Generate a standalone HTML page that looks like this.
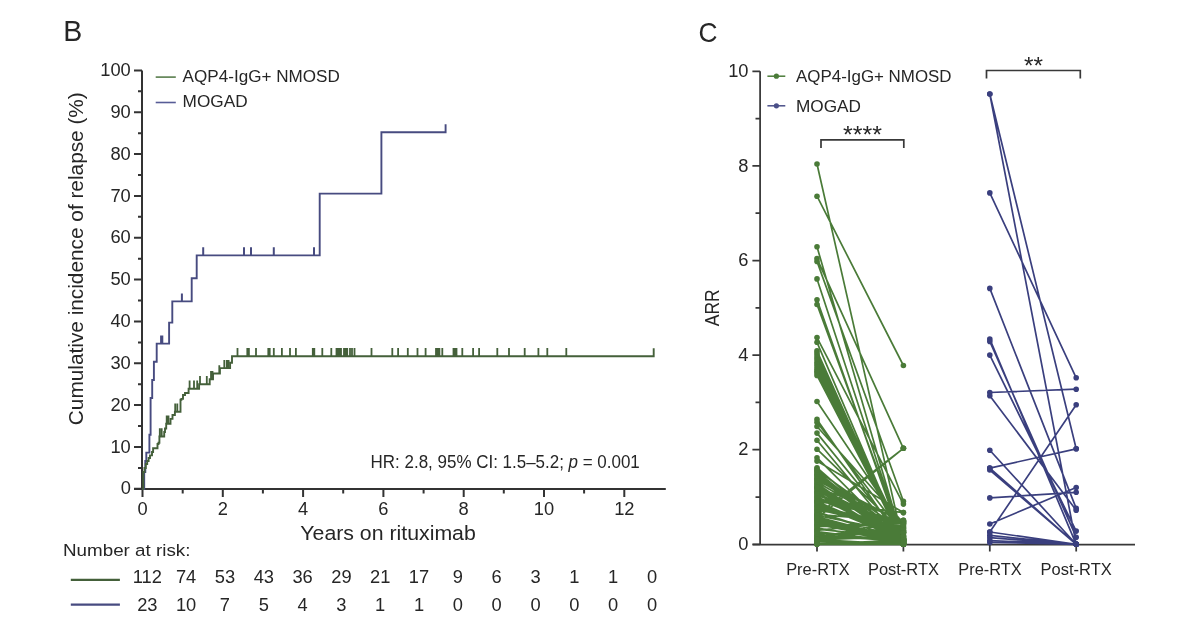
<!DOCTYPE html>
<html><head><meta charset="utf-8"><title>Figure</title>
<style>html,body{margin:0;padding:0;background:#fff;width:1200px;height:627px;overflow:hidden}
svg{display:block;font-family:"Liberation Sans", sans-serif;will-change:transform;filter:blur(0.35px)}</style></head>
<body><svg width="1200" height="627" viewBox="0 0 1200 627">
<rect width="1200" height="627" fill="#fff"/>
<text x="63.2" y="40.7" font-size="29" text-anchor="start" fill="#262626" textLength="19" lengthAdjust="spacingAndGlyphs" >B</text>
<text x="698.5" y="41.6" font-size="27.5" text-anchor="start" fill="#262626" textLength="19" lengthAdjust="spacingAndGlyphs" >C</text>
<path d="M142,70.4 V489 M134,489 H665.8" stroke="#333333" stroke-width="2" fill="none"/>
<path d="M134,488.8H142 M134,447.0H142 M134,405.1H142 M134,363.3H142 M134,321.4H142 M134,279.6H142 M134,237.8H142 M134,195.9H142 M134,154.1H142 M134,112.2H142 M134,70.4H142 M138,467.9H142 M138,426.0H142 M138,384.2H142 M138,342.4H142 M138,300.5H142 M138,258.7H142 M138,216.8H142 M138,175.0H142 M138,133.2H142 M138,91.3H142 M142.5,489V497 M222.8,489V497 M303.1,489V497 M383.4,489V497 M463.7,489V497 M544.0,489V497 M624.3,489V497 M182.7,489V493.5 M262.9,489V493.5 M343.2,489V493.5 M423.6,489V493.5 M503.8,489V493.5 M584.1,489V493.5" stroke="#333333" stroke-width="2" fill="none"/>
<text x="130.8" y="494.4" font-size="18.3" text-anchor="end" fill="#262626" >0</text>
<text x="130.8" y="452.6" font-size="18.3" text-anchor="end" fill="#262626" >10</text>
<text x="130.8" y="410.7" font-size="18.3" text-anchor="end" fill="#262626" >20</text>
<text x="130.8" y="368.9" font-size="18.3" text-anchor="end" fill="#262626" >30</text>
<text x="130.8" y="327.0" font-size="18.3" text-anchor="end" fill="#262626" >40</text>
<text x="130.8" y="285.2" font-size="18.3" text-anchor="end" fill="#262626" >50</text>
<text x="130.8" y="243.4" font-size="18.3" text-anchor="end" fill="#262626" >60</text>
<text x="130.8" y="201.5" font-size="18.3" text-anchor="end" fill="#262626" >70</text>
<text x="130.8" y="159.7" font-size="18.3" text-anchor="end" fill="#262626" >80</text>
<text x="130.8" y="117.8" font-size="18.3" text-anchor="end" fill="#262626" >90</text>
<text x="130.8" y="76.0" font-size="18.3" text-anchor="end" fill="#262626" >100</text>
<text x="142.5" y="515.4" font-size="18.3" text-anchor="middle" fill="#262626" >0</text>
<text x="222.8" y="515.4" font-size="18.3" text-anchor="middle" fill="#262626" >2</text>
<text x="303.1" y="515.4" font-size="18.3" text-anchor="middle" fill="#262626" >4</text>
<text x="383.4" y="515.4" font-size="18.3" text-anchor="middle" fill="#262626" >6</text>
<text x="463.7" y="515.4" font-size="18.3" text-anchor="middle" fill="#262626" >8</text>
<text x="544.0" y="515.4" font-size="18.3" text-anchor="middle" fill="#262626" >10</text>
<text x="624.3" y="515.4" font-size="18.3" text-anchor="middle" fill="#262626" >12</text>
<text transform="translate(83.4,425.2) rotate(-90)" x="0" y="0" font-size="21" fill="#262626" textLength="333" lengthAdjust="spacingAndGlyphs">Cumulative incidence of relapse (%)</text>
<text x="300.3" y="540.4" font-size="20.5" text-anchor="start" fill="#262626" textLength="175.5" lengthAdjust="spacingAndGlyphs" >Years on rituximab</text>
<path d="M155.7,77.1H175.8" stroke="#587d4c" stroke-width="1.6"/>
<path d="M155.7,102.5H175.8" stroke="#575c96" stroke-width="1.6"/>
<text x="182.6" y="82.2" font-size="17.4" text-anchor="start" fill="#262626" textLength="157.2" lengthAdjust="spacingAndGlyphs" >AQP4-IgG+ NMOSD</text>
<text x="182.6" y="106.9" font-size="17.4" text-anchor="start" fill="#262626" textLength="65" lengthAdjust="spacingAndGlyphs" >MOGAD</text>
<text x="370.6" y="467.9" font-size="18" fill="#262626" textLength="269.2" lengthAdjust="spacingAndGlyphs">HR: 2.8, 95% CI: 1.5–5.2; <tspan font-style="italic">p</tspan> = 0.001</text>
<text x="63.0" y="556.4" font-size="17.2" text-anchor="start" fill="#262626" textLength="127.5" lengthAdjust="spacingAndGlyphs" >Number at risk:</text>
<path d="M70.8,579.9H119.9" stroke="#44603a" stroke-width="2.2"/>
<path d="M70.8,604.7H119.9" stroke="#474b80" stroke-width="2.2"/>
<text x="147.3" y="582.7" font-size="18.3" text-anchor="middle" fill="#262626" >112</text>
<text x="147.3" y="610.6" font-size="18.3" text-anchor="middle" fill="#262626" >23</text>
<text x="186.1" y="582.7" font-size="18.3" text-anchor="middle" fill="#262626" >74</text>
<text x="186.1" y="610.6" font-size="18.3" text-anchor="middle" fill="#262626" >10</text>
<text x="224.9" y="582.7" font-size="18.3" text-anchor="middle" fill="#262626" >53</text>
<text x="224.9" y="610.6" font-size="18.3" text-anchor="middle" fill="#262626" >7</text>
<text x="263.8" y="582.7" font-size="18.3" text-anchor="middle" fill="#262626" >43</text>
<text x="263.8" y="610.6" font-size="18.3" text-anchor="middle" fill="#262626" >5</text>
<text x="302.6" y="582.7" font-size="18.3" text-anchor="middle" fill="#262626" >36</text>
<text x="302.6" y="610.6" font-size="18.3" text-anchor="middle" fill="#262626" >4</text>
<text x="341.4" y="582.7" font-size="18.3" text-anchor="middle" fill="#262626" >29</text>
<text x="341.4" y="610.6" font-size="18.3" text-anchor="middle" fill="#262626" >3</text>
<text x="380.2" y="582.7" font-size="18.3" text-anchor="middle" fill="#262626" >21</text>
<text x="380.2" y="610.6" font-size="18.3" text-anchor="middle" fill="#262626" >1</text>
<text x="419.0" y="582.7" font-size="18.3" text-anchor="middle" fill="#262626" >17</text>
<text x="419.0" y="610.6" font-size="18.3" text-anchor="middle" fill="#262626" >1</text>
<text x="457.9" y="582.7" font-size="18.3" text-anchor="middle" fill="#262626" >9</text>
<text x="457.9" y="610.6" font-size="18.3" text-anchor="middle" fill="#262626" >0</text>
<text x="496.7" y="582.7" font-size="18.3" text-anchor="middle" fill="#262626" >6</text>
<text x="496.7" y="610.6" font-size="18.3" text-anchor="middle" fill="#262626" >0</text>
<text x="535.5" y="582.7" font-size="18.3" text-anchor="middle" fill="#262626" >3</text>
<text x="535.5" y="610.6" font-size="18.3" text-anchor="middle" fill="#262626" >0</text>
<text x="574.3" y="582.7" font-size="18.3" text-anchor="middle" fill="#262626" >1</text>
<text x="574.3" y="610.6" font-size="18.3" text-anchor="middle" fill="#262626" >0</text>
<text x="613.1" y="582.7" font-size="18.3" text-anchor="middle" fill="#262626" >1</text>
<text x="613.1" y="610.6" font-size="18.3" text-anchor="middle" fill="#262626" >0</text>
<text x="652.0" y="582.7" font-size="18.3" text-anchor="middle" fill="#262626" >0</text>
<text x="652.0" y="610.6" font-size="18.3" text-anchor="middle" fill="#262626" >0</text>
<path d="M142.5,489 H144.2 V472 H145.3 V461 H146.3 V452.6 H149.4 V434.8 H150.6 V398.0 H152.2 V380 H153.9 V361.8 H156.7 V343.6 H169.1 V322.6 H172.3 V301.4 H191.7 V278.3 H196.7 V255.4 H319.7 V193.6 H381.4 V132.2 H445.6 V132.2 V124.3" stroke="#474b80" stroke-width="1.9" fill="none"/>
<path d="M161.1,343.6V335.6 M162.3,343.6V335.6 M181.9,301.4V293.4 M203.2,255.4V247.3 M244,255.4V247.3 M251,255.4V247.3 M273.8,255.4V247.3 M314,255.4V247.3" stroke="#474b80" stroke-width="2" fill="none"/>
<path d="M142.5,489 H143.3 V472 H144.5 V468 H145.8 V464 H147.2 V461 H148.6 V458 H150 V455.4 H152 V452 H153.1 V448.2 H157.5 V444 H158.5 V442.8 H159.4 V436.5 H164.2 V432 H165 V428.5 H166.2 V423.7 H170.5 V418.9 H172.5 V415 H174.9 V411.7 H180.5 V399.8 H181.4 V398.9 H183 V395 H185 V393 H188.6 V388.8 H199.1 V384.3 H209.7 V379.2 H213 V373.5 H219.9 V368.1 H230.1 V362.7 H232 V356.3 H653.7 V356.3 V348.2" stroke="#44603a" stroke-width="1.9" fill="none"/>
<path d="M159.8,436.5V428.3 M161.7,436.5V428.3 M166.7,423.7V415.5 M168.5,423.7V415.5 M175.2,411.7V403.5 M177.3,411.7V403.5 M189.6,388.8V380.6 M194,388.8V380.6 M197.2,388.8V380.6 M200.0,384.3V376.1 M206.8,384.3V376.1 M211,379.2V371.0 M212.5,379.2V371.0 M219.3,373.5V365.3 M224.3,368.1V359.9 M226.8,368.1V359.9 M228.6,368.1V359.9 M237.5,356.3V348.1 M247.3,356.3V348.1 M248.9,356.3V348.1 M256,356.3V348.1 M268.3,356.3V348.1 M269.7,356.3V348.1 M273.8,356.3V348.1 M281.9,356.3V348.1 M290,356.3V348.1 M295.9,356.3V348.1 M312.8,356.3V348.1 M314.3,356.3V348.1 M322.3,356.3V348.1 M331.3,356.3V348.1 M336.5,356.3V348.1 M338,356.3V348.1 M339.5,356.3V348.1 M341,356.3V348.1 M344,356.3V348.1 M345.5,356.3V348.1 M347.2,356.3V348.1 M350,356.3V348.1 M352,356.3V348.1 M354.5,356.3V348.1 M371.5,356.3V348.1 M392.3,356.3V348.1 M398.1,356.3V348.1 M407.8,356.3V348.1 M417.5,356.3V348.1 M425.6,356.3V348.1 M436,356.3V348.1 M437.6,356.3V348.1 M439.4,356.3V348.1 M442.3,356.3V348.1 M453.5,356.3V348.1 M455,356.3V348.1 M456.5,356.3V348.1 M462.3,356.3V348.1 M473.1,356.3V348.1 M479.1,356.3V348.1 M497.3,356.3V348.1 M509,356.3V348.1 M524.7,356.3V348.1 M538.4,356.3V348.1 M547.3,356.3V348.1 M566.3,356.3V348.1" stroke="#44603a" stroke-width="1.8" fill="none"/>
<path d="M760.1,71.2 V544.5 M752.6,544.5 H1135" stroke="#383838" stroke-width="1.75" fill="none"/>
<path d="M752.4,544.3H760.1 M752.4,449.7H760.1 M752.4,355.1H760.1 M752.4,260.5H760.1 M752.4,165.9H760.1 M752.4,71.3H760.1 M755.5,497.0H760.1 M755.5,402.4H760.1 M755.5,307.8H760.1 M755.5,213.2H760.1 M755.5,118.6H760.1 M817,544.5V551.5 M903.4,544.5V551.5 M989.8,544.5V551.5 M1076.2,544.5V551.5" stroke="#383838" stroke-width="1.75" fill="none"/>
<text x="748.5" y="549.9" font-size="18.3" text-anchor="end" fill="#262626" >0</text>
<text x="748.5" y="455.3" font-size="18.3" text-anchor="end" fill="#262626" >2</text>
<text x="748.5" y="360.7" font-size="18.3" text-anchor="end" fill="#262626" >4</text>
<text x="748.5" y="266.1" font-size="18.3" text-anchor="end" fill="#262626" >6</text>
<text x="748.5" y="171.5" font-size="18.3" text-anchor="end" fill="#262626" >8</text>
<text x="748.5" y="76.9" font-size="18.3" text-anchor="end" fill="#262626" >10</text>
<text transform="translate(719.2,326.3) rotate(-90)" font-size="21" fill="#262626" textLength="37" lengthAdjust="spacingAndGlyphs">ARR</text>
<text x="786.2" y="574.9" font-size="17.4" text-anchor="start" fill="#262626" textLength="63.4" lengthAdjust="spacingAndGlyphs" >Pre-RTX</text>
<text x="867.9" y="574.9" font-size="17.4" text-anchor="start" fill="#262626" textLength="71.1" lengthAdjust="spacingAndGlyphs" >Post-RTX</text>
<text x="958.3" y="574.9" font-size="17.4" text-anchor="start" fill="#262626" textLength="63.4" lengthAdjust="spacingAndGlyphs" >Pre-RTX</text>
<text x="1040.6" y="574.9" font-size="17.4" text-anchor="start" fill="#262626" textLength="71.1" lengthAdjust="spacingAndGlyphs" >Post-RTX</text>
<path d="M767.4,76.2H785.3" stroke="#4a7b38" stroke-width="1.5"/><circle cx="776.4" cy="76.2" r="2.6" fill="#4a7b38"/>
<path d="M767.4,105.8H785.3" stroke="#4a4f88" stroke-width="1.5"/><circle cx="776.4" cy="105.8" r="2.6" fill="#4a4f88"/>
<text x="796.0" y="82.2" font-size="17.4" text-anchor="start" fill="#262626" textLength="155.6" lengthAdjust="spacingAndGlyphs" >AQP4-IgG+ NMOSD</text>
<text x="796.0" y="111.5" font-size="17.4" text-anchor="start" fill="#262626" textLength="65" lengthAdjust="spacingAndGlyphs" >MOGAD</text>
<path d="M821,148V139.8H903.8V148 M986.5,78.6V70.5H1080.3V78.6" stroke="#383838" stroke-width="1.7" fill="none"/>
<text x="862.5" y="142.6" font-size="23" text-anchor="middle" fill="#262626" textLength="39" lengthAdjust="spacingAndGlyphs" >****</text>
<text x="1033.4" y="73.5" font-size="23" text-anchor="middle" fill="#262626" textLength="19" lengthAdjust="spacingAndGlyphs" >**</text>
<path d="M817,164.0L903.4,544.3 M817,196.2L903.4,365.5 M817,246.8L903.4,543.4 M817,258.6L903.4,448.3 M817,261.4L903.4,501.3 M817,278.9L903.4,541.9 M817,299.8L903.4,544.3 M817,304.5L903.4,539.6 M817,337.6L903.4,504.1 M817,342.3L903.4,544.3 M817,350.8L903.4,544.3 M817,352.7L903.4,541.9 M817,355.1L903.4,539.6 M817,357.5L903.4,543.4 M817,359.8L903.4,537.2 M817,362.2L903.4,544.3 M817,364.6L903.4,540.5 M817,366.9L903.4,538.6 M817,369.3L903.4,544.3 M817,371.2L903.4,542.4 M817,373.1L903.4,535.8 M817,375.4L903.4,541.5 M817,401.5L903.4,530.1 M817,419.4L903.4,544.3 M817,422.3L903.4,534.8 M817,426.5L903.4,523.0 M817,433.1L903.4,539.6 M817,440.2L903.4,544.3 M817,449.2L903.4,532.5 M817,457.7L903.4,544.3 M817,461.1L903.4,512.6 M817,467.7L903.4,543.2 M817,469.0L903.4,536.1 M817,470.3L903.4,531.5 M817,471.6L903.4,540.7 M817,472.9L903.4,541.2 M817,474.3L903.4,543.7 M817,475.6L903.4,538.4 M817,476.9L903.4,542.7 M817,478.2L903.4,522.4 M817,479.5L903.4,531.0 M817,480.8L903.4,521.5 M817,482.1L903.4,532.7 M817,483.4L903.4,543.5 M817,484.7L903.4,538.5 M817,486.0L903.4,540.2 M817,487.3L903.4,531.4 M817,488.6L903.4,536.2 M817,489.9L903.4,542.8 M817,491.2L903.4,530.5 M817,492.5L903.4,540.1 M817,493.8L903.4,542.2 M817,495.1L903.4,526.3 M817,496.4L903.4,540.2 M817,497.7L903.4,523.5 M817,499.0L903.4,532.7 M817,500.3L903.4,521.4 M817,501.5L903.4,538.9 M817,502.8L903.4,540.8 M817,504.1L903.4,539.6 M817,505.4L903.4,528.3 M817,506.7L903.4,532.3 M817,507.9L903.4,527.9 M817,509.2L903.4,530.1 M817,510.5L903.4,522.5 M817,511.7L903.4,539.6 M817,513.0L903.4,539.3 M817,514.3L903.4,521.7 M817,515.5L903.4,532.8 M817,516.8L903.4,539.6 M817,518.0L903.4,541.0 M817,519.3L903.4,543.5 M817,520.5L903.4,538.8 M817,521.8L903.4,542.5 M817,523.0L903.4,538.1 M817,524.3L903.4,541.1 M817,525.5L903.4,523.4 M817,526.7L903.4,523.7 M817,528.0L903.4,541.4 M817,529.2L903.4,538.0 M817,530.4L903.4,521.3 M817,531.6L903.4,542.7 M817,532.8L903.4,540.9 M817,534.0L903.4,533.1 M817,535.2L903.4,541.3 M817,536.4L903.4,540.3 M817,537.6L903.4,520.3 M817,538.8L903.4,527.6 M817,539.9L903.4,536.4 M817,541.1L903.4,525.0 M817,542.2L903.4,524.8 M817,543.3L903.4,541.5 M817,544.3L903.4,539.8 M817,515.0L903.4,448.3 M817,518.3L903.4,448.3 M817,487.5L903.4,520.2 M817,501.7L903.4,512.6 M817,544.3L903.4,544.3 M817,542.9L903.4,544.3 M817,541.5L903.4,543.4 M817,539.6L903.4,544.3 M817,543.4L903.4,541.9" stroke="#4a7b38" stroke-width="1.7" fill="none"/>
<g fill="#4a7b38"><circle cx="817" cy="164.0" r="2.8"/><circle cx="903.4" cy="544.3" r="2.8"/><circle cx="817" cy="196.2" r="2.8"/><circle cx="903.4" cy="365.5" r="2.8"/><circle cx="817" cy="246.8" r="2.8"/><circle cx="903.4" cy="543.4" r="2.8"/><circle cx="817" cy="258.6" r="2.8"/><circle cx="903.4" cy="448.3" r="2.8"/><circle cx="817" cy="261.4" r="2.8"/><circle cx="903.4" cy="501.3" r="2.8"/><circle cx="817" cy="278.9" r="2.8"/><circle cx="903.4" cy="541.9" r="2.8"/><circle cx="817" cy="299.8" r="2.8"/><circle cx="903.4" cy="544.3" r="2.8"/><circle cx="817" cy="304.5" r="2.8"/><circle cx="903.4" cy="539.6" r="2.8"/><circle cx="817" cy="337.6" r="2.8"/><circle cx="903.4" cy="504.1" r="2.8"/><circle cx="817" cy="342.3" r="2.8"/><circle cx="903.4" cy="544.3" r="2.8"/><circle cx="817" cy="350.8" r="2.8"/><circle cx="903.4" cy="544.3" r="2.8"/><circle cx="817" cy="352.7" r="2.8"/><circle cx="903.4" cy="541.9" r="2.8"/><circle cx="817" cy="355.1" r="2.8"/><circle cx="903.4" cy="539.6" r="2.8"/><circle cx="817" cy="357.5" r="2.8"/><circle cx="903.4" cy="543.4" r="2.8"/><circle cx="817" cy="359.8" r="2.8"/><circle cx="903.4" cy="537.2" r="2.8"/><circle cx="817" cy="362.2" r="2.8"/><circle cx="903.4" cy="544.3" r="2.8"/><circle cx="817" cy="364.6" r="2.8"/><circle cx="903.4" cy="540.5" r="2.8"/><circle cx="817" cy="366.9" r="2.8"/><circle cx="903.4" cy="538.6" r="2.8"/><circle cx="817" cy="369.3" r="2.8"/><circle cx="903.4" cy="544.3" r="2.8"/><circle cx="817" cy="371.2" r="2.8"/><circle cx="903.4" cy="542.4" r="2.8"/><circle cx="817" cy="373.1" r="2.8"/><circle cx="903.4" cy="535.8" r="2.8"/><circle cx="817" cy="375.4" r="2.8"/><circle cx="903.4" cy="541.5" r="2.8"/><circle cx="817" cy="401.5" r="2.8"/><circle cx="903.4" cy="530.1" r="2.8"/><circle cx="817" cy="419.4" r="2.8"/><circle cx="903.4" cy="544.3" r="2.8"/><circle cx="817" cy="422.3" r="2.8"/><circle cx="903.4" cy="534.8" r="2.8"/><circle cx="817" cy="426.5" r="2.8"/><circle cx="903.4" cy="523.0" r="2.8"/><circle cx="817" cy="433.1" r="2.8"/><circle cx="903.4" cy="539.6" r="2.8"/><circle cx="817" cy="440.2" r="2.8"/><circle cx="903.4" cy="544.3" r="2.8"/><circle cx="817" cy="449.2" r="2.8"/><circle cx="903.4" cy="532.5" r="2.8"/><circle cx="817" cy="457.7" r="2.8"/><circle cx="903.4" cy="544.3" r="2.8"/><circle cx="817" cy="461.1" r="2.8"/><circle cx="903.4" cy="512.6" r="2.8"/><circle cx="817" cy="467.7" r="2.8"/><circle cx="903.4" cy="543.2" r="2.8"/><circle cx="817" cy="469.0" r="2.8"/><circle cx="903.4" cy="536.1" r="2.8"/><circle cx="817" cy="470.3" r="2.8"/><circle cx="903.4" cy="531.5" r="2.8"/><circle cx="817" cy="471.6" r="2.8"/><circle cx="903.4" cy="540.7" r="2.8"/><circle cx="817" cy="472.9" r="2.8"/><circle cx="903.4" cy="541.2" r="2.8"/><circle cx="817" cy="474.3" r="2.8"/><circle cx="903.4" cy="543.7" r="2.8"/><circle cx="817" cy="475.6" r="2.8"/><circle cx="903.4" cy="538.4" r="2.8"/><circle cx="817" cy="476.9" r="2.8"/><circle cx="903.4" cy="542.7" r="2.8"/><circle cx="817" cy="478.2" r="2.8"/><circle cx="903.4" cy="522.4" r="2.8"/><circle cx="817" cy="479.5" r="2.8"/><circle cx="903.4" cy="531.0" r="2.8"/><circle cx="817" cy="480.8" r="2.8"/><circle cx="903.4" cy="521.5" r="2.8"/><circle cx="817" cy="482.1" r="2.8"/><circle cx="903.4" cy="532.7" r="2.8"/><circle cx="817" cy="483.4" r="2.8"/><circle cx="903.4" cy="543.5" r="2.8"/><circle cx="817" cy="484.7" r="2.8"/><circle cx="903.4" cy="538.5" r="2.8"/><circle cx="817" cy="486.0" r="2.8"/><circle cx="903.4" cy="540.2" r="2.8"/><circle cx="817" cy="487.3" r="2.8"/><circle cx="903.4" cy="531.4" r="2.8"/><circle cx="817" cy="488.6" r="2.8"/><circle cx="903.4" cy="536.2" r="2.8"/><circle cx="817" cy="489.9" r="2.8"/><circle cx="903.4" cy="542.8" r="2.8"/><circle cx="817" cy="491.2" r="2.8"/><circle cx="903.4" cy="530.5" r="2.8"/><circle cx="817" cy="492.5" r="2.8"/><circle cx="903.4" cy="540.1" r="2.8"/><circle cx="817" cy="493.8" r="2.8"/><circle cx="903.4" cy="542.2" r="2.8"/><circle cx="817" cy="495.1" r="2.8"/><circle cx="903.4" cy="526.3" r="2.8"/><circle cx="817" cy="496.4" r="2.8"/><circle cx="903.4" cy="540.2" r="2.8"/><circle cx="817" cy="497.7" r="2.8"/><circle cx="903.4" cy="523.5" r="2.8"/><circle cx="817" cy="499.0" r="2.8"/><circle cx="903.4" cy="532.7" r="2.8"/><circle cx="817" cy="500.3" r="2.8"/><circle cx="903.4" cy="521.4" r="2.8"/><circle cx="817" cy="501.5" r="2.8"/><circle cx="903.4" cy="538.9" r="2.8"/><circle cx="817" cy="502.8" r="2.8"/><circle cx="903.4" cy="540.8" r="2.8"/><circle cx="817" cy="504.1" r="2.8"/><circle cx="903.4" cy="539.6" r="2.8"/><circle cx="817" cy="505.4" r="2.8"/><circle cx="903.4" cy="528.3" r="2.8"/><circle cx="817" cy="506.7" r="2.8"/><circle cx="903.4" cy="532.3" r="2.8"/><circle cx="817" cy="507.9" r="2.8"/><circle cx="903.4" cy="527.9" r="2.8"/><circle cx="817" cy="509.2" r="2.8"/><circle cx="903.4" cy="530.1" r="2.8"/><circle cx="817" cy="510.5" r="2.8"/><circle cx="903.4" cy="522.5" r="2.8"/><circle cx="817" cy="511.7" r="2.8"/><circle cx="903.4" cy="539.6" r="2.8"/><circle cx="817" cy="513.0" r="2.8"/><circle cx="903.4" cy="539.3" r="2.8"/><circle cx="817" cy="514.3" r="2.8"/><circle cx="903.4" cy="521.7" r="2.8"/><circle cx="817" cy="515.5" r="2.8"/><circle cx="903.4" cy="532.8" r="2.8"/><circle cx="817" cy="516.8" r="2.8"/><circle cx="903.4" cy="539.6" r="2.8"/><circle cx="817" cy="518.0" r="2.8"/><circle cx="903.4" cy="541.0" r="2.8"/><circle cx="817" cy="519.3" r="2.8"/><circle cx="903.4" cy="543.5" r="2.8"/><circle cx="817" cy="520.5" r="2.8"/><circle cx="903.4" cy="538.8" r="2.8"/><circle cx="817" cy="521.8" r="2.8"/><circle cx="903.4" cy="542.5" r="2.8"/><circle cx="817" cy="523.0" r="2.8"/><circle cx="903.4" cy="538.1" r="2.8"/><circle cx="817" cy="524.3" r="2.8"/><circle cx="903.4" cy="541.1" r="2.8"/><circle cx="817" cy="525.5" r="2.8"/><circle cx="903.4" cy="523.4" r="2.8"/><circle cx="817" cy="526.7" r="2.8"/><circle cx="903.4" cy="523.7" r="2.8"/><circle cx="817" cy="528.0" r="2.8"/><circle cx="903.4" cy="541.4" r="2.8"/><circle cx="817" cy="529.2" r="2.8"/><circle cx="903.4" cy="538.0" r="2.8"/><circle cx="817" cy="530.4" r="2.8"/><circle cx="903.4" cy="521.3" r="2.8"/><circle cx="817" cy="531.6" r="2.8"/><circle cx="903.4" cy="542.7" r="2.8"/><circle cx="817" cy="532.8" r="2.8"/><circle cx="903.4" cy="540.9" r="2.8"/><circle cx="817" cy="534.0" r="2.8"/><circle cx="903.4" cy="533.1" r="2.8"/><circle cx="817" cy="535.2" r="2.8"/><circle cx="903.4" cy="541.3" r="2.8"/><circle cx="817" cy="536.4" r="2.8"/><circle cx="903.4" cy="540.3" r="2.8"/><circle cx="817" cy="537.6" r="2.8"/><circle cx="903.4" cy="520.3" r="2.8"/><circle cx="817" cy="538.8" r="2.8"/><circle cx="903.4" cy="527.6" r="2.8"/><circle cx="817" cy="539.9" r="2.8"/><circle cx="903.4" cy="536.4" r="2.8"/><circle cx="817" cy="541.1" r="2.8"/><circle cx="903.4" cy="525.0" r="2.8"/><circle cx="817" cy="542.2" r="2.8"/><circle cx="903.4" cy="524.8" r="2.8"/><circle cx="817" cy="543.3" r="2.8"/><circle cx="903.4" cy="541.5" r="2.8"/><circle cx="817" cy="544.3" r="2.8"/><circle cx="903.4" cy="539.8" r="2.8"/><circle cx="817" cy="515.0" r="2.8"/><circle cx="903.4" cy="448.3" r="2.8"/><circle cx="817" cy="518.3" r="2.8"/><circle cx="903.4" cy="448.3" r="2.8"/><circle cx="817" cy="487.5" r="2.8"/><circle cx="903.4" cy="520.2" r="2.8"/><circle cx="817" cy="501.7" r="2.8"/><circle cx="903.4" cy="512.6" r="2.8"/><circle cx="817" cy="544.3" r="2.8"/><circle cx="903.4" cy="544.3" r="2.8"/><circle cx="817" cy="542.9" r="2.8"/><circle cx="903.4" cy="544.3" r="2.8"/><circle cx="817" cy="541.5" r="2.8"/><circle cx="903.4" cy="543.4" r="2.8"/><circle cx="817" cy="539.6" r="2.8"/><circle cx="903.4" cy="544.3" r="2.8"/><circle cx="817" cy="543.4" r="2.8"/><circle cx="903.4" cy="541.9" r="2.8"/></g>
<path d="M989.8,94.0L1076.2,544.3 M989.8,94.0L1076.2,448.8 M989.8,192.9L1076.2,377.8 M989.8,288.4L1076.2,508.4 M989.8,339.0L1076.2,544.3 M989.8,341.4L1076.2,537.2 M989.8,355.1L1076.2,531.1 M989.8,392.5L1076.2,389.2 M989.8,395.8L1076.2,510.2 M989.8,450.2L1076.2,544.3 M989.8,468.1L1076.2,448.8 M989.8,468.1L1076.2,544.3 M989.8,470.0L1076.2,544.3 M989.8,497.9L1076.2,492.3 M989.8,524.0L1076.2,487.5 M989.8,532.0L1076.2,404.8 M989.8,532.0L1076.2,544.3 M989.8,535.3L1076.2,544.3 M989.8,537.7L1076.2,544.3 M989.8,540.5L1076.2,544.3 M989.8,542.4L1076.2,544.3" stroke="#3a3f7e" stroke-width="1.7" fill="none"/>
<g fill="#3a3f7e"><circle cx="989.8" cy="94.0" r="2.8"/><circle cx="1076.2" cy="544.3" r="2.8"/><circle cx="989.8" cy="94.0" r="2.8"/><circle cx="1076.2" cy="448.8" r="2.8"/><circle cx="989.8" cy="192.9" r="2.8"/><circle cx="1076.2" cy="377.8" r="2.8"/><circle cx="989.8" cy="288.4" r="2.8"/><circle cx="1076.2" cy="508.4" r="2.8"/><circle cx="989.8" cy="339.0" r="2.8"/><circle cx="1076.2" cy="544.3" r="2.8"/><circle cx="989.8" cy="341.4" r="2.8"/><circle cx="1076.2" cy="537.2" r="2.8"/><circle cx="989.8" cy="355.1" r="2.8"/><circle cx="1076.2" cy="531.1" r="2.8"/><circle cx="989.8" cy="392.5" r="2.8"/><circle cx="1076.2" cy="389.2" r="2.8"/><circle cx="989.8" cy="395.8" r="2.8"/><circle cx="1076.2" cy="510.2" r="2.8"/><circle cx="989.8" cy="450.2" r="2.8"/><circle cx="1076.2" cy="544.3" r="2.8"/><circle cx="989.8" cy="468.1" r="2.8"/><circle cx="1076.2" cy="448.8" r="2.8"/><circle cx="989.8" cy="468.1" r="2.8"/><circle cx="1076.2" cy="544.3" r="2.8"/><circle cx="989.8" cy="470.0" r="2.8"/><circle cx="1076.2" cy="544.3" r="2.8"/><circle cx="989.8" cy="497.9" r="2.8"/><circle cx="1076.2" cy="492.3" r="2.8"/><circle cx="989.8" cy="524.0" r="2.8"/><circle cx="1076.2" cy="487.5" r="2.8"/><circle cx="989.8" cy="532.0" r="2.8"/><circle cx="1076.2" cy="404.8" r="2.8"/><circle cx="989.8" cy="532.0" r="2.8"/><circle cx="1076.2" cy="544.3" r="2.8"/><circle cx="989.8" cy="535.3" r="2.8"/><circle cx="1076.2" cy="544.3" r="2.8"/><circle cx="989.8" cy="537.7" r="2.8"/><circle cx="1076.2" cy="544.3" r="2.8"/><circle cx="989.8" cy="540.5" r="2.8"/><circle cx="1076.2" cy="544.3" r="2.8"/><circle cx="989.8" cy="542.4" r="2.8"/><circle cx="1076.2" cy="544.3" r="2.8"/></g>
</svg></body></html>
